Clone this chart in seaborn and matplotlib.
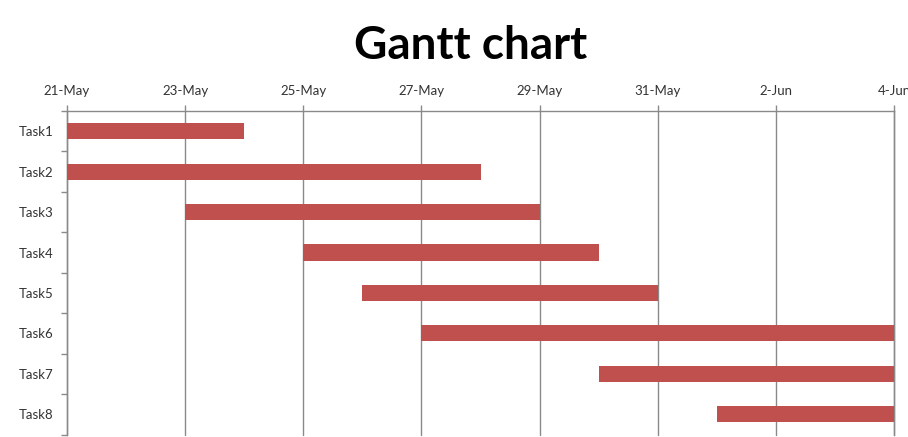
import matplotlib
matplotlib.use("Agg")
import matplotlib.pyplot as plt
import matplotlib.dates as mdates
import seaborn as sns
import pandas as pd
import numpy as np

tasks = ["Task1", "Task2", "Task3", "Task4", "Task5", "Task6", "Task7", "Task8"]
start_dates = ["2010-05-21", "2010-05-21", "2010-05-23", "2010-05-25",
               "2010-05-26", "2010-05-27", "2010-05-30", "2010-06-01"]
durations = [3, 7, 6, 5, 5, 8, 5, 3]
tick_dates = ["2010-05-21", "2010-05-23", "2010-05-25", "2010-05-27",
              "2010-05-29", "2010-05-31", "2010-06-02", "2010-06-04"]

sns.set_theme(style="white")
plt.rcParams['font.family'] = ['Lato', 'DejaVu Sans']

starts = mdates.date2num(pd.to_datetime(start_dates))
df = pd.DataFrame({"task": tasks, "duration": durations, "start": starts})

fig = plt.figure(figsize=(9.08, 4.37), dpi=100)
ax = fig.add_axes([67/908, (437-434.5)/437, (894-67)/908, (434.5-111)/437])

sns.barplot(data=df, y="task", x="duration", order=tasks, left=df["start"].values,
            color="#C0504D", saturation=1, width=0.4, linewidth=0, ax=ax, zorder=3)

ticks = mdates.date2num(pd.to_datetime(tick_dates))
ax.set_xlim(ticks[0], ticks[-1])
ax.set_ylim(len(tasks) - 0.5, -0.5)
ax.xaxis.tick_top()
ax.set_xticks(ticks)
ax.set_xticklabels([pd.Timestamp(d).strftime("%-d-%b") for d in tick_dates])
ax.tick_params(axis="x", which="major", direction="out", length=4, width=1,
               color="#8a8a8a", labelsize=9.5, pad=6, labelcolor="#333333")
ax.grid(axis="x", color="#8a8a8a", linewidth=1, zorder=0)
for gl in ax.get_xgridlines():
    gl.set_clip_on(False)
ax.set_axisbelow(True)

ax.set_yticks(range(len(tasks)))
ax.set_yticklabels(tasks)
ax.set_yticks(np.arange(len(tasks) + 1) - 0.5, minor=True)
ax.tick_params(axis="y", which="major", length=0, labelsize=9.5, pad=10, labelcolor="#333333")
ax.tick_params(axis="y", which="minor", direction="out", length=4, width=1, color="#8a8a8a", left=True)

ax.set_xlabel("")
ax.set_ylabel("")
for side in ["bottom"]:
    ax.spines[side].set_visible(False)
for side in ["left", "top", "right"]:
    ax.spines[side].set_color("#8a8a8a")
    ax.spines[side].set_linewidth(1)

fig.text(0.518, 0.895, "Gantt chart", ha="center", va="center",
         fontsize=33, fontweight="bold", color="black")

fig.savefig("out.png", dpi=100)
